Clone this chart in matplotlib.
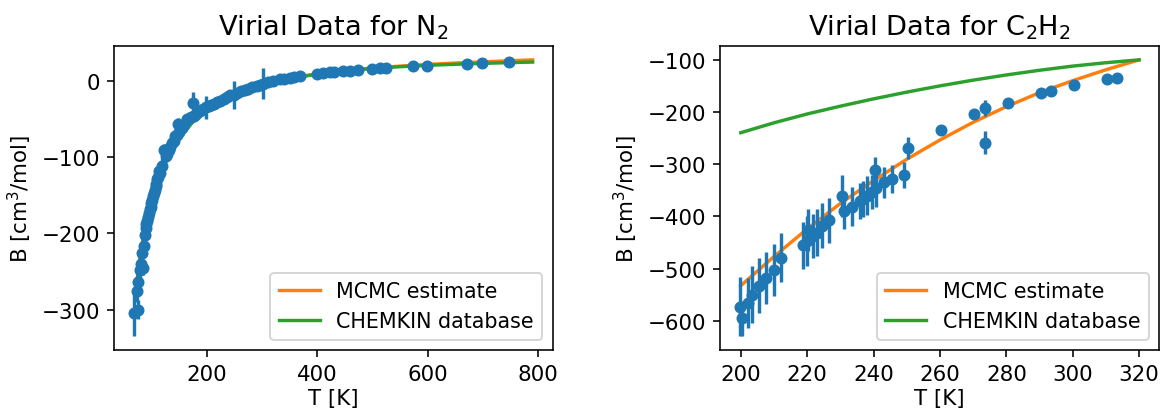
import matplotlib
matplotlib.use("Agg")
import matplotlib.pyplot as plt
from matplotlib.ticker import MultipleLocator

plt.rcParams["font.size"] = 10.7
plt.rcParams["axes.titlesize"] = 13.6
plt.rcParams["legend.fontsize"] = 10.3
plt.rcParams["lines.linewidth"] = 1.7

# N2 second virial coefficient measurements (T in K, B in cm^3/mol)
n2_T = [67.5, 72.4, 75.5, 75.5, 78.4, 80.5, 82.7, 84.5, 85.6, 86.8, 88.6, 90.0,
        91.7, 93.0, 94.6, 96.0, 97.6, 99.0, 100.7, 102.0, 103.6, 105.0, 106.7,
        108.0, 109.7, 111.0, 112.6, 115.0, 118.8, 121.7, 124.7, 127.0, 130.7,
        133.0, 136.8, 140.0, 142.8, 145.0, 147.6, 150.0, 154.9, 158.0, 163.9,
        170.0, 174.0, 175.8, 180.0, 188.0, 193.0, 198.0, 203.0, 208.0, 212.0,
        218.0, 223.0, 230.0, 236.0, 242.0, 248.0, 255.0, 262.0, 269.0, 275.0,
        282.0, 290.0, 296.0, 302.0, 310.0, 320.0, 332.0, 340.0, 350.0, 358.0,
        368.0, 398.6, 410.0, 422.6, 430.0, 446.6, 458.7, 473.6, 499.6, 512.8,
        523.6, 573.0, 598.0, 672.0, 699.0, 747.5]
n2_B = [-305, -275, -300, -264, -248, -240, -226, -246, -217, -202, -193, -188,
        -184, -178, -173, -168, -165, -160, -156, -151, -147, -143, -138,
        -135, -129, -126, -118, -120, -111, -90, -98, -96, -90,
        -86, -81, -78, -72, -70, -56, -66, -61, -58, -50,
        -47, -29, -45, -43, -39, -37, -34, -33, -31, -30,
        -27, -25.5, -23, -20.5, -18.5, -18, -15, -13, -11, -9.5,
        -8, -6, -5, -3, -1.5, 0.5, 3, 3.5, 4, 5.5,
        6.6, 9.7, 10.5, 11.9, 12.2, 13.2, 14.0, 14.9, 16.3, 17.2,
        18.0, 20.6, 20.6, 23.3, 24.2, 25.1]
n2_err = [30, 15, 12, 15, 10, 10, 12, 8, 12, 10, 10, 8,
          8, 6, 8, 6, 8, 6, 8, 5, 8, 5, 8,
          5, 8, 5, 10, 6, 10, 8, 8, 6, 8,
          6, 8, 6, 8, 5, 8, 5, 6, 4, 5,
          4, 15, 4, 3, 3, 3, 15, 3, 3, 3,
          2, 2, 2, 2, 2, 19, 2, 2, 2, 2,
          2, 2, 2, 20, 2, 2, 2, 1, 1, 1,
          1, 1, 1, 1, 1, 1, 1, 1, 1, 1,
          1, 1, 1, 1, 1, 1]

# fitted curves for N2
n2_fit_T = [70, 75, 80, 85, 90, 95, 100, 110, 120, 130, 140, 150, 160, 175,
            200, 225, 250, 275, 300, 325, 350, 400, 450, 500, 550, 600, 650,
            700, 750, 790]
n2_mcmc = [-280, -250, -225, -203, -185, -168, -155, -131, -112, -97, -84, -73,
           -64, -52, -36, -25, -16, -9.5, -4, 0.5, 4, 10, 14, 17.5, 20, 22.2,
           24, 25.6, 27, 28.2]
n2_chemkin = [-282, -252, -226, -204, -186, -169, -156, -132, -113, -98, -85, -74,
              -65, -53, -37, -26, -17, -10, -4.5, 0, 3.5, 9.5, 13.5, 17, 19.2,
              21, 22.4, 23.6, 24.6, 25.3]

# C2H2 measurements
c2h2_T = [199.9, 200.4, 202.2, 203.5, 205.5, 207.6, 210.1, 212.2, 218.6, 220.0,
          220.4, 221.8, 223.0, 224.4, 226.6, 230.5, 231.1, 233.5, 235.9, 236.9,
          238.1, 239.4, 240.3, 240.6, 243.1, 245.7, 249.3, 250.4, 260.4, 270.3,
          273.6, 273.6, 280.4, 290.4, 293.6, 300.5, 310.2, 313.4]
c2h2_B = [-573, -596, -566, -550, -533, -518, -503, -479, -455, -447,
          -426, -437, -431, -418, -407, -361, -389, -381, -370, -366,
          -360, -353, -310, -346, -334, -328, -320, -268, -233, -204,
          -191, -258, -181, -162, -158, -147, -135, -133]
c2h2_err = [57, 33, 48, 55, 53, 50, 50, 47, 45, 48,
            40, 42, 45, 43, 43, 40, 35, 37, 35, 35,
            37, 33, 25, 35, 30, 27, 25, 21, 5, 5,
            15, 22, 3, 3, 8, 3, 3, 7]

c2h2_fit_T = [200, 210, 220, 230, 240, 250, 260, 270, 280, 290, 300, 310, 320]
c2h2_mcmc = [-533, -477, -424, -375, -331, -290, -253, -219, -189, -162, -139,
             -118, -99]
c2h2_chemkin = [-239, -220, -203, -188, -174, -161, -149, -138, -128, -119,
                -111, -104.5, -99]


def _panel(ax, T, B, err, fit_T, mcmc, chemkin, title):
    ax.errorbar(T, B, yerr=err, fmt="o", color="C0", ms=5, zorder=3)
    l1, = ax.plot(fit_T, mcmc, color="C1", label="MCMC estimate", zorder=2)
    l2, = ax.plot(fit_T, chemkin, color="C2", label="CHEMKIN database", zorder=2)
    ax.legend(handles=[l1, l2], loc="lower right")
    ax.set_title(title)
    ax.set_xlabel("T [K]", labelpad=2)
    ax.set_ylabel("B [cm$^3$/mol]")


fig, (ax1, ax2) = plt.subplots(1, 2, figsize=(8.0625, 2.854), dpi=144)
_panel(ax1, n2_T, n2_B, n2_err, n2_fit_T, n2_mcmc, n2_chemkin,
       "Virial Data for N$_2$")
_panel(ax2, c2h2_T, c2h2_B, c2h2_err, c2h2_fit_T, c2h2_mcmc, c2h2_chemkin,
       "Virial Data for C$_2$H$_2$")
ax2.xaxis.set_major_locator(MultipleLocator(20))

fig.subplots_adjust(left=0.0982, right=0.9983, bottom=0.146, top=0.8856,
                    wspace=0.383)
fig.savefig("out.png", dpi=144)
